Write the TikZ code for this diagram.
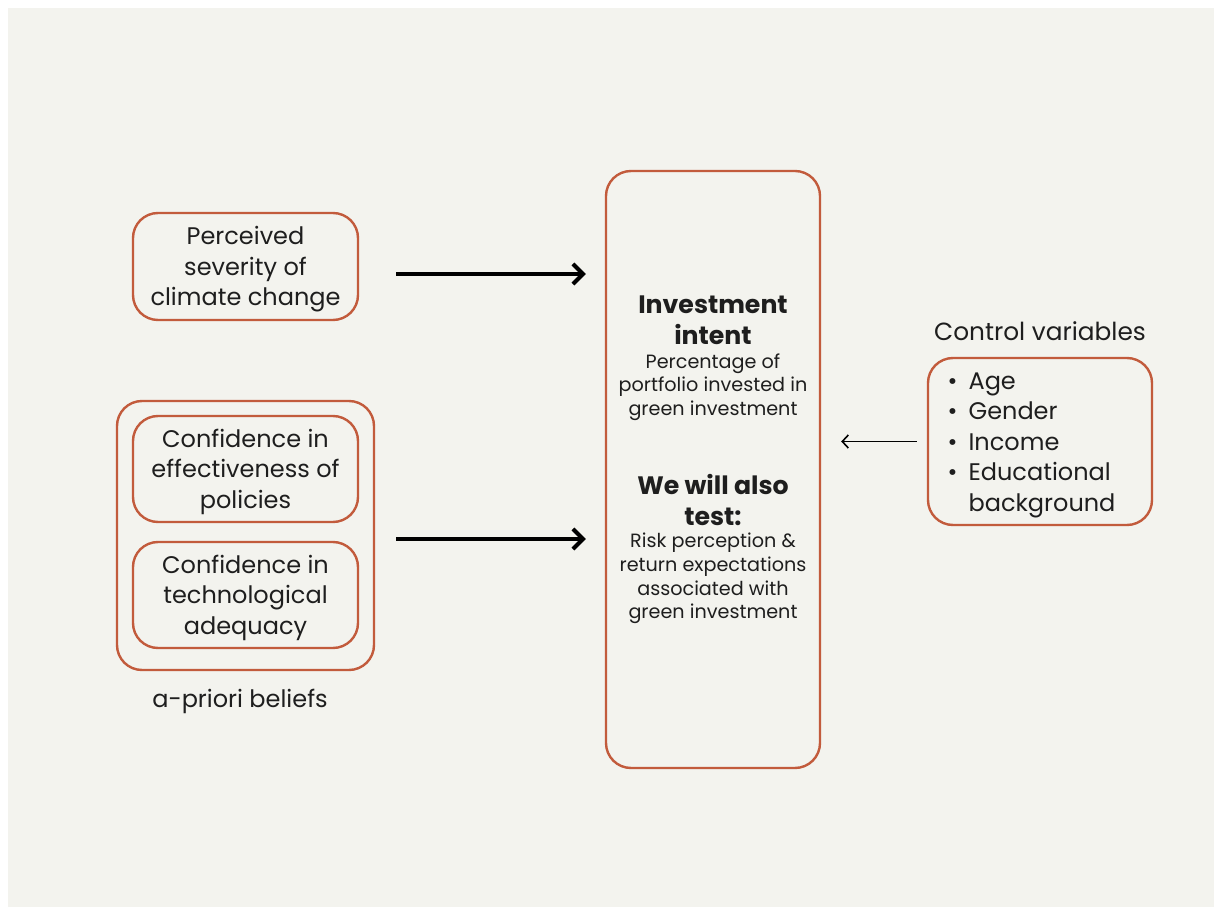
\documentclass[tikz,border=0pt]{standalone}
\usepackage{fontspec}
\setmainfont{Poppins}
\usetikzlibrary{arrows.meta}
\definecolor{rust}{HTML}{C25B3C}
\definecolor{paper}{HTML}{F3F3EE}
\definecolor{ink}{HTML}{1E1E1E}
\newcommand{\topstrut}{\rule{0pt}{12pt}}
\newcommand{\bul}{\makebox[11pt][l]{\hspace{0.5pt}\textbullet}}
\begin{document}
\begin{tikzpicture}[x=0.5pt,y=-0.5pt,
  box/.style={draw=rust,line width=1.2pt,rounded corners=12.5pt,align=center,inner sep=0pt,
    text=ink,font=\fontsize{12}{15.3}\selectfont},
  txt/.style={align=center,inner sep=0pt,text=ink,font=\fontsize{12}{15.3}\selectfont},
  small/.style={align=center,inner sep=0pt,text=ink,font=\fontsize{9.6}{11.8}\selectfont},
  bigarrow/.style={line width=2pt,-{Straight Barb[length=5pt,width=10pt]}},
  thinarrow/.style={line width=0.8pt,-{Straight Barb[length=3pt,width=6.5pt]}}]
\useasboundingbox (0,0) rectangle (1214,908);
\fill[white] (0,0) rectangle (1214,908);
\fill[paper] (8,8) rectangle (1214,907);
% left side
\node[box,minimum width=112.5pt,minimum height=53.5pt] (sev) at (245.5,266.5)
  {\topstrut Perceived\\severity of\\climate change};
\node[box,minimum width=128.5pt,minimum height=134.5pt] (beliefs) at (245.5,535.5) {};
\node[box,minimum width=112.5pt,minimum height=53pt] (pol) at (245.5,469)
  {\topstrut Confidence in\\effectiveness of\\policies};
\node[box,minimum width=112.5pt,minimum height=53pt] (tech) at (245.5,595)
  {\topstrut Confidence in\\technological\\adequacy};
\node[txt] (apriori) at (240,701) {a-priori beliefs};
% middle
\node[box,minimum width=107pt,minimum height=298.5pt] (intent) at (713,469.5) {};
\node[txt,font=\fontsize{12.6}{15.5}\selectfont\bfseries] (intentT) at (713,320) {Investment\\intent};
\node[small] (intentS) at (713,387) {Percentage of\\portfolio invested in\\green investment};
\node[txt,font=\fontsize{12.6}{15.5}\selectfont\bfseries] (testT) at (713,500) {We will also\\test:};
\node[small] (testS) at (713,578.5) {Risk perception \&\\return expectations\\associated with\\green investment};
% right side
\node[txt,font=\fontsize{12.4}{15.3}\selectfont] (ctrlT) at (1040,331) {Control variables};
\node[box,align=left,minimum width=112pt,minimum height=83.5pt] (ctrl) at (1040,441.5)
  {\topstrut\bul Age\\\bul Gender\\\bul Income\\\bul Educational\\
   \makebox[11pt][l]{}background\makebox[9pt]{}};
% arrows
\draw[bigarrow,shorten <=18.5pt,shorten >=9.5pt] ([yshift=-3.75pt]sev.east) -- ([yshift=-3.75pt]sev.east -| intent.west);
\draw[bigarrow,shorten <=10.5pt,shorten >=9.5pt] ([yshift=-1.75pt]beliefs.east) -- ([yshift=-1.75pt]beliefs.east -| intent.west);
\draw[thinarrow,shorten <=5pt,shorten >=10pt] (ctrl.west) -- (ctrl.west -| intent.east);
\end{tikzpicture}
\end{document}
